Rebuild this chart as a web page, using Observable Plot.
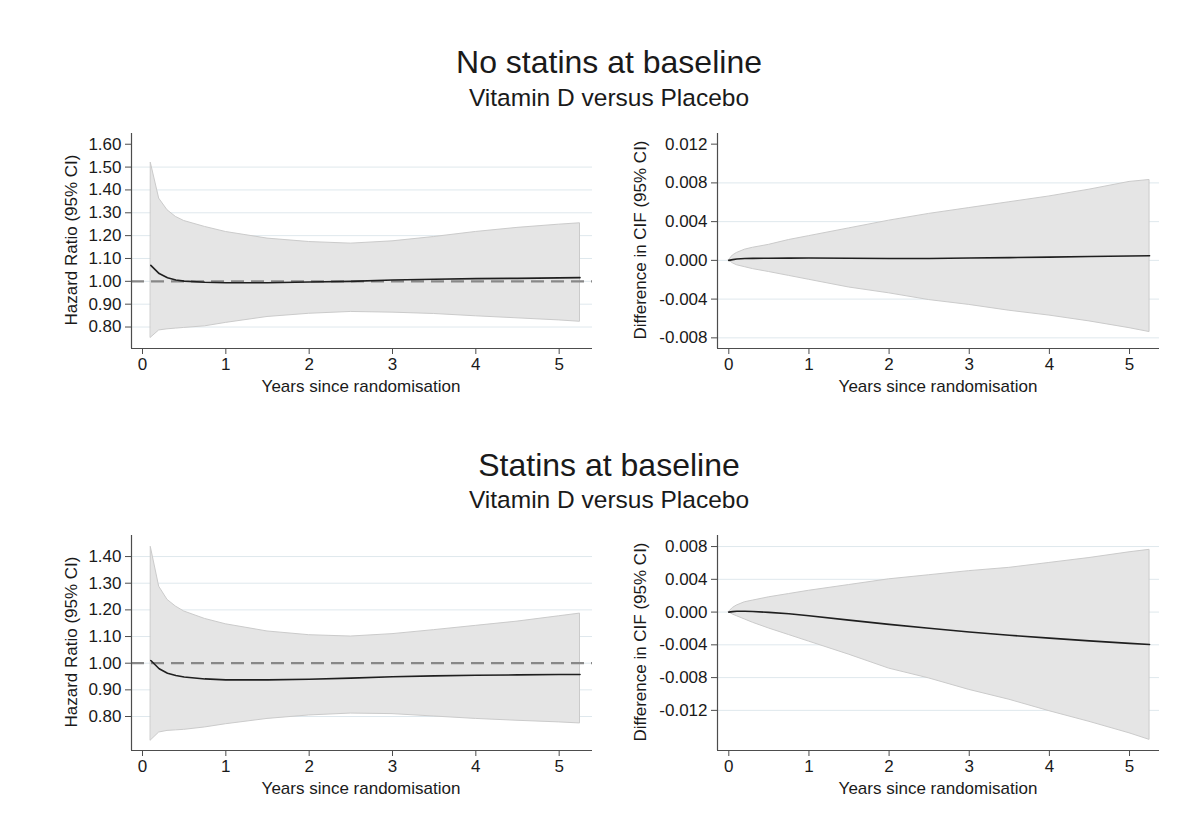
<!DOCTYPE html>
<html>
<head>
<meta charset="utf-8">
<script src="https://cdn.jsdelivr.net/npm/d3@7"></script>
<script src="https://cdn.jsdelivr.net/npm/@observablehq/plot@0.6"></script>
<style>
  html, body { margin: 0; padding: 0; background: #fff; }
  body { width: 1197px; height: 827px; position: relative; overflow: hidden; font-family: "Liberation Sans", Arial, sans-serif; color: #1a1a1a; }
  .abs { position: absolute; }
  .title { position: absolute; left: 0; width: 1218px; text-align: center; white-space: nowrap; }
  .t1 { font-size: 32px; height: 40px; line-height: 40px; }
  .t2 { font-size: 24.5px; height: 30px; line-height: 30px; }
  .lab { position: absolute; white-space: nowrap; font-size: 17px; line-height: 1; transform: translate(-50%, -50%); }
  .ylab { transform: translate(-50%, -50%) rotate(-90deg); }
</style>
</head>
<body>
<div class="title t1" style="top:42px">No statins at baseline</div>
<div class="title t2" style="top:83px">Vitamin D versus Placebo</div>
<div class="title t1" style="top:445px">Statins at baseline</div>
<div class="title t2" style="top:485px">Vitamin D versus Placebo</div>

<div id="tl" class="abs" style="left:40px; top:120px"></div>
<div id="tr" class="abs" style="left:620px; top:120px"></div>
<div id="bl" class="abs" style="left:40px; top:522px"></div>
<div id="br" class="abs" style="left:620px; top:522px"></div>

<div class="lab ylab" style="left:71px; top:240px">Hazard Ratio (95% CI)</div>
<div class="lab" style="left:361px; top:386px">Years since randomisation</div>
<div class="lab ylab" style="left:640px; top:240px">Difference in CIF (95% CI)</div>
<div class="lab" style="left:938px; top:386px">Years since randomisation</div>
<div class="lab ylab" style="left:71px; top:642px">Hazard Ratio (95% CI)</div>
<div class="lab" style="left:361px; top:788px">Years since randomisation</div>
<div class="lab ylab" style="left:640px; top:642px">Difference in CIF (95% CI)</div>
<div class="lab" style="left:938px; top:788px">Years since randomisation</div>

<script>
// ---- Data ----
const xTickYears = [0, 1, 2, 3, 4, 5];

// Hazard-ratio panels: years since randomisation
const hrYears = [0.1, 0.2, 0.3, 0.4, 0.5, 0.75, 1, 1.5, 2, 2.5, 3, 3.5, 4, 4.5, 5, 5.25];
// CIF-difference panels
const cifYears = [0, 0.05, 0.1, 0.2, 0.3, 0.5, 0.75, 1, 1.5, 2, 2.5, 3, 3.5, 4, 4.5, 5, 5.25];

// No statins at baseline - Hazard ratio
const noStatinHR   = [1.070, 1.034, 1.016, 1.006, 1.001, 0.996, 0.994, 0.994, 0.997, 1.000, 1.006, 1.009, 1.012, 1.013, 1.015, 1.016];
const noStatinHRlo = [0.753, 0.785, 0.790, 0.793, 0.796, 0.803, 0.818, 0.844, 0.858, 0.866, 0.863, 0.857, 0.847, 0.838, 0.829, 0.823];
const noStatinHRhi = [1.518, 1.362, 1.311, 1.282, 1.264, 1.238, 1.216, 1.187, 1.172, 1.165, 1.175, 1.194, 1.216, 1.234, 1.248, 1.254];

// No statins at baseline - Difference in CIF
const noStatinCIF   = [0, 0.00008, 0.00014, 0.0002, 0.00021, 0.00022, 0.00023, 0.00024, 0.00022, 0.0002, 0.0002, 0.00024, 0.00028, 0.00034, 0.0004, 0.00045, 0.00048];
const noStatinCIFlo = [0, -0.0003, -0.0005, -0.0007, -0.0009, -0.0012, -0.0016, -0.0020, -0.0028, -0.0034, -0.0041, -0.0046, -0.0052, -0.0057, -0.0063, -0.0070, -0.0074];
const noStatinCIFhi = [0, 0.0005, 0.00076, 0.0011, 0.0013, 0.0016, 0.0021, 0.0025, 0.0033, 0.0041, 0.0048, 0.0054, 0.0060, 0.0066, 0.0073, 0.0081, 0.0083];

// Statins at baseline - Hazard ratio
const statinHR   = [1.010, 0.979, 0.9625, 0.954, 0.948, 0.941, 0.9375, 0.9375, 0.940, 0.944, 0.949, 0.9525, 0.955, 0.956, 0.9575, 0.9575];
const statinHRlo = [0.710, 0.740, 0.746, 0.748, 0.750, 0.759, 0.771, 0.791, 0.804, 0.811, 0.809, 0.800, 0.791, 0.784, 0.778, 0.774];
const statinHRhi = [1.435, 1.287, 1.2375, 1.2125, 1.194, 1.166, 1.146, 1.119, 1.105, 1.100, 1.109, 1.124, 1.140, 1.156, 1.176, 1.186];

// Statins at baseline - Difference in CIF
const statinCIF   = [0, 0.00006, 0.0001, 0.0001, 0.00008, -0.00004, -0.0002, -0.00045, -0.00098, -0.0015, -0.00198, -0.00243, -0.00283, -0.00318, -0.00352, -0.00382, -0.00396];
const statinCIFlo = [0, -0.0003, -0.0005, -0.0009, -0.0013, -0.0020, -0.0028, -0.0036, -0.0052, -0.0069, -0.0081, -0.0095, -0.0107, -0.0121, -0.0134, -0.0148, -0.0156];
const statinCIFhi = [0, 0.0005, 0.0008, 0.0012, 0.0014, 0.0018, 0.0022, 0.0026, 0.0033, 0.0040, 0.0045, 0.0050, 0.0054, 0.0060, 0.0066, 0.0073, 0.0076];

// Tick values
const hrTicksTop    = [0.80, 0.90, 1.00, 1.10, 1.20, 1.30, 1.40, 1.50, 1.60];
const hrTicksBottom = [0.80, 0.90, 1.00, 1.10, 1.20, 1.30, 1.40];
const cifTicksTop    = [-0.008, -0.004, 0, 0.004, 0.008, 0.012];
const cifTicksBottom = [-0.012, -0.008, -0.004, 0, 0.004, 0.008];

// ---- Drawing ----
function rows(t, est, lo, hi) {
  return t.map((d, i) => ({t: d, est: est[i], lo: lo[i], hi: hi[i]}));
}

function panel(id, opts) {
  const {data, xDomain, yDomain, yTicks, gridTicks, fmt, ref, marginLeft, width} = opts;
  const axisColor = "#4d4d4d";
  const chart = Plot.plot({
    width: width,
    height: 260,
    marginLeft: marginLeft,
    marginRight: 10,
    marginTop: 13,
    marginBottom: 32,
    style: {fontFamily: "'Liberation Sans', Arial, sans-serif", fontSize: "17px", color: "#1a1a1a", background: "transparent", overflow: "visible"},
    x: {domain: xDomain},
    y: {domain: yDomain},
    marks: [
      Plot.gridY(gridTicks, {stroke: "#dfe8ed", strokeOpacity: 1, strokeWidth: 1}),
      Plot.areaY(data, {x: "t", y1: "lo", y2: "hi", fill: "#e5e5e5", stroke: "#cbcbcb", strokeWidth: 1}),
      ref != null ? Plot.ruleY([ref], {stroke: "#888888", strokeWidth: 2.2, strokeDasharray: "13,7"}) : null,
      Plot.lineY(data, {x: "t", y: "est", stroke: "#1f1f1f", strokeWidth: 1.6}),
      Plot.ruleX([xDomain[0]], {stroke: axisColor, strokeWidth: 1.2}),
      Plot.ruleY([yDomain[0]], {stroke: axisColor, strokeWidth: 1.2}),
      Plot.axisX(xTickYears, {label: null, tickSize: 6, tickPadding: 3, stroke: axisColor, tickFormat: d => String(d)}),
      Plot.axisY(yTicks, {label: null, tickSize: 6, tickPadding: 4, stroke: axisColor, tickFormat: fmt})
    ]
  });
  document.getElementById(id).appendChild(chart);
}

const fmtHR = d => d.toFixed(2);
const fmtCIF = d => d.toFixed(3);

panel("tl", {
  data: rows(hrYears, noStatinHR, noStatinHRlo, noStatinHRhi),
  xDomain: [-0.132, 5.40], yDomain: [0.706, 1.647],
  yTicks: hrTicksTop, gridTicks: hrTicksTop.slice(0, -1), fmt: fmtHR, ref: 1,
  marginLeft: 91, width: 562
});
panel("tr", {
  data: rows(cifYears, noStatinCIF, noStatinCIFlo, noStatinCIFhi),
  xDomain: [-0.141, 5.374], yDomain: [-0.0091, 0.0131],
  yTicks: cifTicksTop, gridTicks: cifTicksTop.slice(0, -1), fmt: fmtCIF, ref: null,
  marginLeft: 97, width: 549
});
panel("bl", {
  data: rows(hrYears, statinHR, statinHRlo, statinHRhi),
  xDomain: [-0.132, 5.40], yDomain: [0.6725, 1.479],
  yTicks: hrTicksBottom, gridTicks: hrTicksBottom, fmt: fmtHR, ref: 1,
  marginLeft: 91, width: 562
});
panel("br", {
  data: rows(cifYears, statinCIF, statinCIFlo, statinCIFhi),
  xDomain: [-0.141, 5.374], yDomain: [-0.0169, 0.00935],
  yTicks: cifTicksBottom, gridTicks: cifTicksBottom, fmt: fmtCIF, ref: null,
  marginLeft: 97, width: 549
});
</script>
</body>
</html>
